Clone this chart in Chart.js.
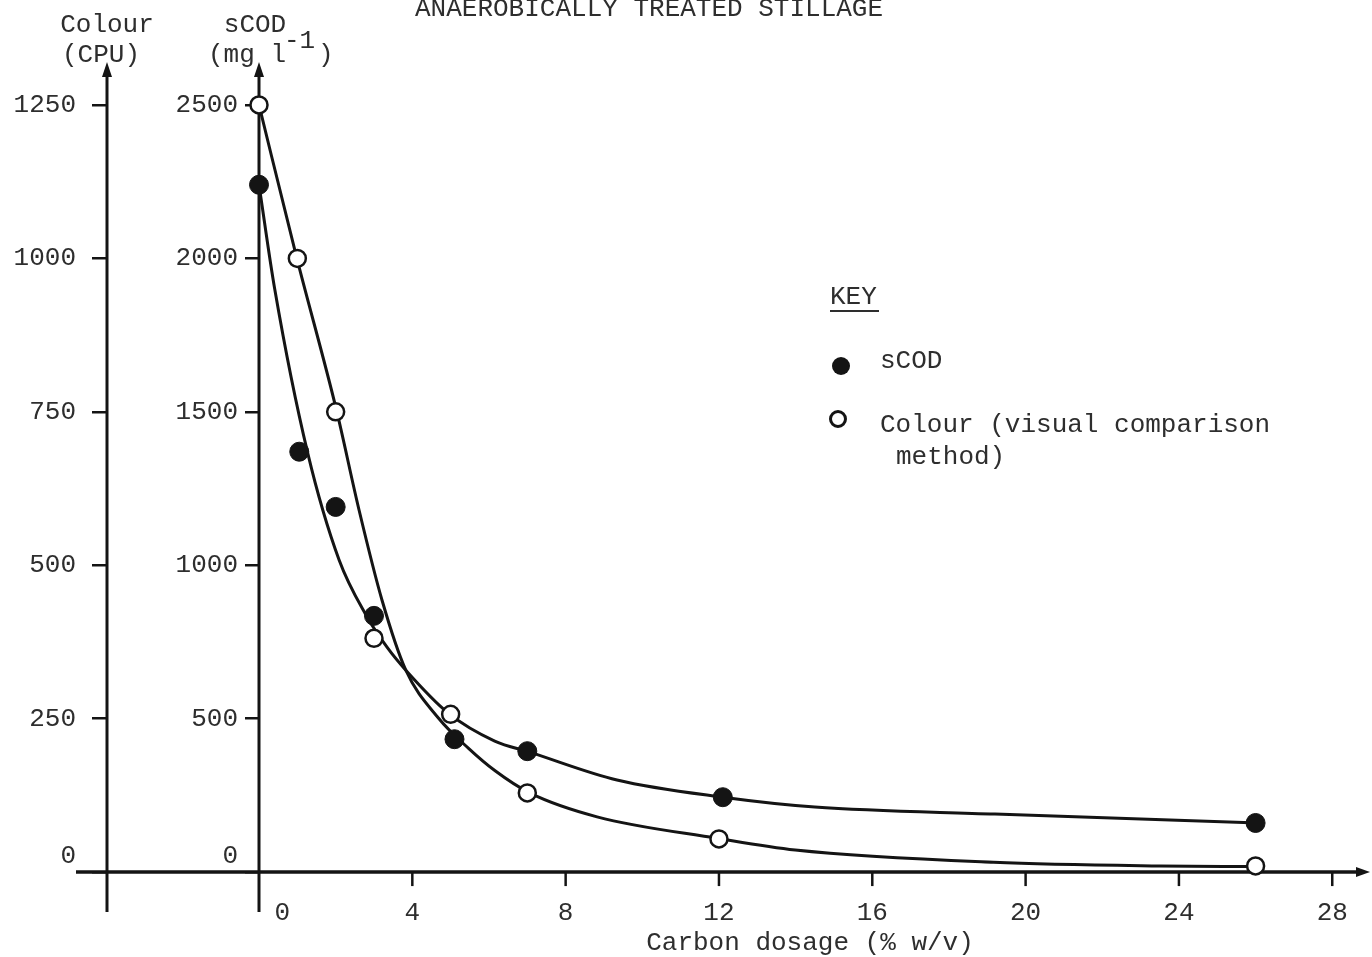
<!DOCTYPE html>
<html>
<head>
<meta charset="utf-8">
<title>Anaerobically treated stillage</title>
<script src="https://cdn.jsdelivr.net/npm/chart.js@4.4.1/dist/chart.umd.min.js"></script>
<style>
  html, body { margin: 0; padding: 0; background: #fff; }
  #wrap { width: 1372px; height: 957px; }
</style>
</head>
<body>
<div id="wrap"><canvas id="grafico" width="1372" height="957"></canvas></div>
<script>
// Datos
var dosisSCOD = [0, 1.05, 2, 3, 5.1, 7, 12.1, 26];
var valoresSCOD = [2240, 1370, 1190, 835, 433, 394, 244, 160];
var dosisColor = [0, 1, 2, 3, 5, 7, 12, 26];
var valoresColor = [1250, 1000, 750, 381, 257, 129, 54, 10];

// Curvas ajustadas a mano en el original
var curvaSCODx = [0, 0.41, 1.27, 2.09, 2.79, 3.34, 3.83, 4.94, 6.15, 7.06, 9.34, 12.1, 14.5, 19.2, 26.07];
var curvaSCODy = [2240, 1900, 1366, 1017, 838, 733, 658, 518, 427, 391, 300, 244, 212, 189, 160];
var curvaColorx = [0, 0.98, 2.02, 2.61, 3.21, 3.83, 4.68, 5.46, 6.16, 7.06, 8.82, 11.97, 13.99, 19.16, 23.5, 26.04];
var curvaColory = [1250, 1002, 753, 590, 443, 329, 251, 202, 165, 129, 90, 55, 36, 16, 10, 9];

// Marcas de los ejes
var ticksX = [0, 4, 8, 12, 16, 20, 24, 28];
var ticksSCOD = [0, 500, 1000, 1500, 2000, 2500];
var ticksColor = [0, 250, 500, 750, 1000, 1250];

var limiteInferior = -91;   // los ejes bajan un poco bajo el cero
var limiteSuperior = 2640;  // punta de la flecha
var fuente = "'Liberation Mono', 'Courier New', monospace";
var colorTexto = '#2e2e2e';
var colorLinea = '#141414';

function aPuntos(xs, ys) {
    var pts = [];
    for (let i = 0; i < xs.length; i++) pts.push({x: xs[i], y: ys[i]});
    return pts;
}

function etiquetaY(v) {
    // el cero va un poco por encima del eje x
    return v === 0 ? ['0', ''] : String(v);
}

var pluginEjes = {
    id: 'ejes',
    beforeDatasetsDraw: function(chart) {
        var ctx = chart.ctx;
        var ex = chart.scales.x, ey = chart.scales.y, ey2 = chart.scales.y2;
        var y0 = ey.getPixelForValue(0);
        var arriba = ey.getPixelForValue(limiteSuperior);
        ctx.save();
        ctx.strokeStyle = colorLinea;
        ctx.fillStyle = colorLinea;
        ctx.lineWidth = 3;
        // ejes verticales con flecha
        [ey2.right, ey.right].forEach(function(px) {
            ctx.beginPath();
            ctx.moveTo(px, arriba + 8);
            ctx.lineTo(px, y0 + 40);
            ctx.stroke();
            ctx.beginPath();
            ctx.moveTo(px, arriba);
            ctx.lineTo(px - 5, arriba + 15);
            ctx.lineTo(px + 5, arriba + 15);
            ctx.closePath();
            ctx.fill();
        });
        // eje horizontal
        ctx.lineWidth = 3.5;
        ctx.beginPath();
        ctx.moveTo(ey2.right - 31, y0);
        ctx.lineTo(chart.width - 10, y0);
        ctx.stroke();
        ctx.beginPath();
        ctx.moveTo(chart.width - 2, y0);
        ctx.lineTo(chart.width - 16, y0 - 5);
        ctx.lineTo(chart.width - 16, y0 + 5);
        ctx.closePath();
        ctx.fill();
        // marcas del eje x
        ctx.lineWidth = 2.5;
        ex.ticks.forEach(function(t) {
            if (t.value === 0) return;
            var px = ex.getPixelForValue(t.value);
            ctx.beginPath();
            ctx.moveTo(px, y0);
            ctx.lineTo(px, y0 + 14);
            ctx.stroke();
        });
        ctx.restore();
    },
    afterDraw: function(chart) {
        var ctx = chart.ctx;
        ctx.save();
        ctx.fillStyle = colorTexto;
        ctx.font = '26px ' + fuente;
        ctx.textBaseline = 'alphabetic';
        ctx.textAlign = 'left';
        ctx.fillText('ANAEROBICALLY TREATED STILLAGE', 415, 16);

        ctx.textBaseline = 'middle';
        ctx.textAlign = 'center';
        ctx.fillText('Colour', 107, 25);
        ctx.fillText('(CPU)', 101, 55);
        ctx.fillText('sCOD', 255, 25);
        ctx.textAlign = 'left';
        ctx.fillText('(mg l', 208, 55);
        ctx.fillText('-1', 284, 41);
        ctx.fillText(')', 318, 55);

        // Leyenda
        ctx.fillText('KEY', 830, 297);
        ctx.fillRect(830, 310, 49, 2);
        ctx.fillText('sCOD', 880, 361);
        ctx.fillText('Colour (visual comparison', 880, 425);
        ctx.fillText('method)', 896, 457);

        ctx.fillStyle = colorLinea;
        ctx.beginPath();
        ctx.arc(841, 366, 9, 0, Math.PI * 2);
        ctx.fill();
        ctx.strokeStyle = colorLinea;
        ctx.lineWidth = 3;
        ctx.beginPath();
        ctx.arc(838, 419, 7.5, 0, Math.PI * 2);
        ctx.stroke();
        ctx.restore();
    }
};

var grafico = new Chart(document.getElementById('grafico').getContext('2d'), {
    type: 'scatter',
    data: {
        datasets: [{
            label: 'sCOD',
            data: aPuntos(dosisSCOD, valoresSCOD),
            yAxisID: 'y',
            pointRadius: 9.5,
            pointBorderWidth: 1,
            pointBackgroundColor: colorLinea,
            pointBorderColor: colorLinea,
            showLine: false,
            clip: false
        }, {
            label: 'Colour (visual comparison method)',
            data: aPuntos(dosisColor, valoresColor),
            yAxisID: 'y2',
            pointRadius: 8.5,
            pointBorderWidth: 2.5,
            pointBackgroundColor: '#fff',
            pointBorderColor: colorLinea,
            showLine: false,
            clip: false
        }, {
            label: 'curva sCOD',
            data: aPuntos(curvaSCODx, curvaSCODy),
            yAxisID: 'y',
            showLine: true,
            pointRadius: 0,
            borderColor: colorLinea,
            borderWidth: 3,
            cubicInterpolationMode: 'monotone',
            clip: false
        }, {
            label: 'curva Colour',
            data: aPuntos(curvaColorx, curvaColory),
            yAxisID: 'y2',
            showLine: true,
            pointRadius: 0,
            borderColor: colorLinea,
            borderWidth: 3,
            cubicInterpolationMode: 'monotone',
            clip: false
        }]
    },
    options: {
        responsive: false,
        animation: false,
        devicePixelRatio: 1,
        layout: { padding: { top: 62, right: 1, bottom: 0, left: 0 } },
        plugins: {
            legend: { display: false },
            tooltip: { enabled: false }
        },
        scales: {
            x: {
                type: 'linear',
                min: 0,
                max: 28.75,
                afterBuildTicks: function(s) { s.ticks = ticksX.map(function(v) { return {value: v}; }); },
                afterFit: function(s) { s.height = 57; },
                grid: { display: false, drawTicks: false },
                border: { display: false },
                ticks: {
                    font: { family: fuente, size: 26, lineHeight: 1.0 },
                    color: colorTexto,
                    padding: 0,
                    maxRotation: 0,
                    autoSkip: false,
                    callback: function(v) { return v === 0 ? '\u00a0\u00a0\u00a00' : String(v); }
                },
                title: {
                    display: true,
                    text: 'Carbon dosage (% w/v)',
                    font: { family: fuente, size: 26, lineHeight: 1.1 },
                    color: colorTexto,
                    padding: 0
                }
            },
            y: {
                type: 'linear',
                position: 'left',
                weight: 0,
                min: limiteInferior,
                max: limiteSuperior,
                afterBuildTicks: function(s) { s.ticks = ticksSCOD.map(function(v) { return {value: v}; }); },
                afterFit: function(s) { s.width = 152; },
                grid: { drawOnChartArea: false, drawTicks: true, tickLength: 14, color: colorLinea, lineWidth: 2.5 },
                border: { display: false },
                ticks: {
                    font: { family: fuente, size: 26 },
                    color: colorTexto,
                    padding: 7,
                    callback: etiquetaY
                }
            },
            y2: {
                type: 'linear',
                position: 'left',
                weight: 1,
                min: limiteInferior / 2,
                max: limiteSuperior / 2,
                afterBuildTicks: function(s) { s.ticks = ticksColor.map(function(v) { return {value: v}; }); },
                afterFit: function(s) { s.width = 107; },
                grid: { drawOnChartArea: false, drawTicks: true, tickLength: 15, color: colorLinea, lineWidth: 2.5 },
                border: { display: false },
                ticks: {
                    font: { family: fuente, size: 26 },
                    color: colorTexto,
                    padding: 16,
                    callback: etiquetaY
                }
            }
        }
    },
    plugins: [pluginEjes]
});
</script>
</body>
</html>
